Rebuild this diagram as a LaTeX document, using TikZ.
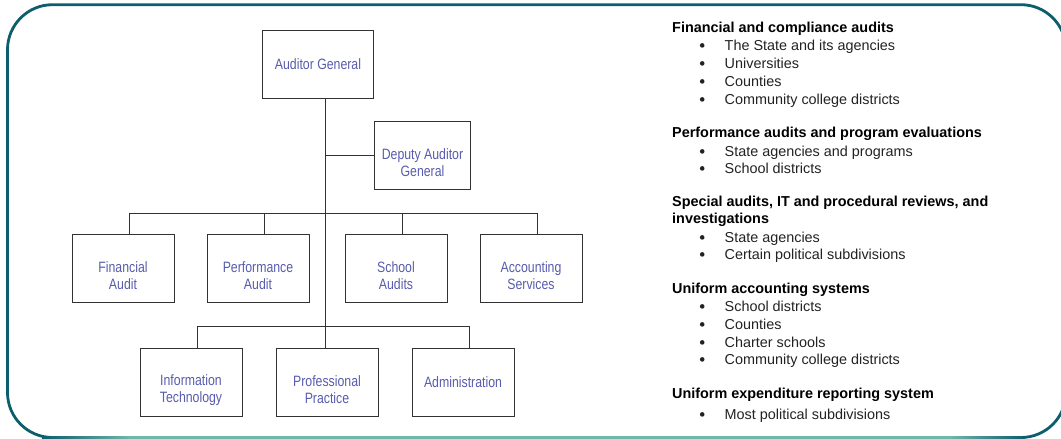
\documentclass[tikz,border=0pt]{standalone}
\usepackage{fontspec}
\setmainfont{Liberation Sans}
\newfontfamily\narrowsans[FakeStretch=0.82]{Liberation Sans}
\usetikzlibrary{calc}
\definecolor{tealdark}{RGB}{12,94,108}
\definecolor{teallight}{RGB}{112,182,170}
\definecolor{unitblue}{RGB}{88,92,172}
\definecolor{linegray}{RGB}{50,50,50}
\definecolor{bodytext}{RGB}{34,34,34}

\begin{document}
\begin{tikzpicture}[x=1pt,y=-1pt,
  unit/.style={draw=linegray,line width=1pt,minimum height=68pt,inner sep=0pt},
  unitlabel/.style={font=\narrowsans\fontsize{15}{17}\selectfont,text=unitblue,align=center,inner sep=0pt},
  link/.style={draw=linegray,line width=0.9pt},
  head/.style={font=\bfseries\fontsize{14.4}{18}\selectfont,anchor=base west,inner sep=0pt,text=black},
  item/.style={font=\fontsize{14.4}{18}\selectfont,anchor=base west,inner sep=0pt,text=bodytext},
]
\useasboundingbox (0,0) rectangle (1061,439);

% outer frame, open to the right edge
\begin{scope}
  \clip (0,0) rectangle (1061,439);
  \draw[tealdark,line width=2.8pt,rounded corners=45pt] (7.5,4.7) rectangle (1066,437.5);
  \fill[left color=tealdark,right color=teallight] (42,436.4) rectangle (130,438.6);
  \fill[teallight] (130,436.4) rectangle (950,438.6);
  \fill[left color=teallight,right color=tealdark] (950,436.4) rectangle (1025,438.6);
\end{scope}

% organisation units
\node[unit,minimum width=111pt] (ag) at (318,64) {};
\node[unit,minimum width=96pt] (dag) at (422.5,155) {};
\node[unit,minimum width=102pt] (fa) at (123,268) {};
\node[unit,minimum width=102pt] (pa) at (258,268) {};
\node[unit,minimum width=102pt] (sa) at (396,268) {};
\node[unit,minimum width=102pt] (as) at (531,268) {};
\node[unit,minimum width=102pt] (it) at (191,382) {};
\node[unit,minimum width=102pt] (pp) at (327,382) {};
\node[unit,minimum width=102pt] (ad) at (463,382) {};

\node[unitlabel] (ag-t) at (ag.center) {Auditor General};
\node[unitlabel] (dag-t) at ($(dag.center)+(0,8)$) {Deputy Auditor\\General};
\node[unitlabel] (fa-t) at ($(fa.center)+(0,8)$) {Financial\\Audit};
\node[unitlabel] (pa-t) at ($(pa.center)+(0,8)$) {Performance\\Audit};
\node[unitlabel] (sa-t) at ($(sa.center)+(0,8)$) {School\\Audits};
\node[unitlabel] (as-t) at ($(as.center)+(0,8)$) {Accounting\\Services};
\node[unitlabel] (it-t) at ($(it.center)+(0,8)$) {Information\\Technology};
\node[unitlabel] (pp-t) at ($(pp.center)+(0,8)$) {Professional\\Practice};
\node[unitlabel] (ad-t) at (ad.center) {Administration};

% connectors
\coordinate (spine) at (325,0);
\coordinate (bar1) at (0,213);
\coordinate (bar2) at (0,326);
\coordinate (fa-in) at ($(fa.north)+(6,0)$);
\coordinate (pa-in) at ($(pa.north)+(6,0)$);
\coordinate (sa-in) at ($(sa.north)+(6,0)$);
\coordinate (as-in) at ($(as.north)+(6,0)$);
\coordinate (it-in) at ($(it.north)+(6,0)$);
\coordinate (ad-in) at ($(ad.north)+(6,0)$);

\draw[link] (ag.south -| spine) -- (pp.north -| spine);
\draw[link] (dag.west) -- (dag.west -| spine);
\draw[link] (fa-in) |- (bar1 -| as-in) -- (as-in);
\draw[link] (pa-in) -- (pa-in |- bar1);
\draw[link] (sa-in) -- (sa-in |- bar1);
\draw[link] (it-in) |- (bar2 -| ad-in) -- (ad-in);

% responsibilities
\node[head] (h1) at (672,32) {Financial and compliance audits};
\node[item] (h1a) at (699,50) {\hspace{25.5pt}The State and its agencies};
\node[item] (h1b) at (699,68) {\hspace{25.5pt}Universities};
\node[item] (h1c) at (699,86) {\hspace{25.5pt}Counties};
\node[item] (h1d) at (699,104) {\hspace{25.5pt}Community college districts};

\node[head] (h2) at (672,137) {Performance audits and program evaluations};
\node[item] (h2a) at (699,156) {\hspace{25.5pt}State agencies and programs};
\node[item] (h2b) at (699,173) {\hspace{25.5pt}School districts};

\node[head] (h3) at (672,206) {Special audits, IT and procedural reviews, and};
\node[head] (h3w) at (672,223) {investigations};
\node[item] (h3a) at (699,242) {\hspace{25.5pt}State agencies};
\node[item] (h3b) at (699,259) {\hspace{25.5pt}Certain political subdivisions};

\node[head] (h4) at (672,293) {Uniform accounting systems};
\node[item] (h4a) at (699,311) {\hspace{25.5pt}School districts};
\node[item] (h4b) at (699,329) {\hspace{25.5pt}Counties};
\node[item] (h4c) at (699,347) {\hspace{25.5pt}Charter schools};
\node[item] (h4d) at (699,364) {\hspace{25.5pt}Community college districts};

\node[head] (h5) at (672,398) {Uniform expenditure reporting system};
\node[item] (h5a) at (699,419) {\hspace{25.5pt}Most political subdivisions};

% list bullets
\foreach \n in {h1a,h1b,h1c,h1d,h2a,h2b,h3a,h3b,h4a,h4b,h4c,h4d,h5a}
  \fill[bodytext] ($(\n.base west)+(3.2,-4.6)$) circle (2.3pt);
\end{tikzpicture}
\end{document}
